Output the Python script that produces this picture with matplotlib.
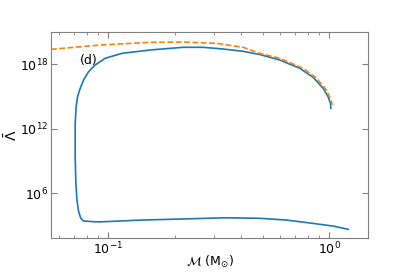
import numpy as np
import matplotlib.pyplot as plt
from matplotlib.ticker import LogLocator, NullFormatter

# courbe bleue (boucle complete): masse de chirp, log10(Lambda)
mass_blue = [1.219, 1.043, 0.846, 0.641, 0.486, 0.3433, 0.1837, 0.1421, 0.0917,
             0.0873, 0.0774, 0.0752, 0.0735, 0.0722, 0.0714, 0.0709, 0.0709,
             0.0716, 0.0727, 0.0747, 0.0774, 0.0815, 0.0873, 0.0969, 0.1153,
             0.1421, 0.1544, 0.2185, 0.2691, 0.3314, 0.4082, 0.4858, 0.598,
             0.737, 0.846, 0.9395, 0.9896, 1.0146, 1.018]
loglam_blue = [2.67, 2.97, 3.22, 3.53, 3.69, 3.74, 3.59, 3.53, 3.36,
               3.37, 3.44, 3.69, 4.30, 5.38, 6.93, 9.40, 12.50,
               14.04, 14.97, 15.75, 16.52, 17.29, 17.91, 18.53, 18.99,
               19.21, 19.30, 19.55, 19.55, 19.39, 19.18, 18.88, 18.37,
               17.60, 16.77, 15.75, 14.97, 14.35, 13.89]

# courbe orange en pointilles
mass_orange = [0.0551, 0.0917, 0.1544, 0.2185, 0.3094, 0.4082, 0.4858, 0.598,
               0.763, 0.877, 0.973, 1.0254, 1.032]
loglam_orange = [19.36, 19.76, 20.01, 20.04, 19.92, 19.55, 18.99, 18.53,
                 17.60, 16.67, 15.59, 14.50, 14.20]

label_panel = "(d)"

fig = plt.figure(figsize=(4.09, 2.73), dpi=100)
ax = fig.add_axes([0.1247, 0.128, 0.7751, 0.7548])

ax.plot(mass_blue, 10.0 ** np.array(loglam_blue), color='#1f77b4', lw=1.2)
ax.plot(mass_orange, 10.0 ** np.array(loglam_orange), color='#ff7f0e', lw=1.2,
        ls='--', dashes=(3.5, 1.5))

ax.set_xscale('log')
ax.set_yscale('log')
ax.set_xlim(0.0551, 1.50)
ax.set_ylim(10 ** 1.86, 10 ** 20.97)
ax.set_yticks([1e6, 1e12, 1e18])
ax.minorticks_off()
ax.xaxis.set_minor_locator(LogLocator(base=10, subs=np.arange(2, 10), numticks=20))
ax.xaxis.set_minor_formatter(NullFormatter())

ax.text(0.0818, 10 ** 18.37, label_panel, fontsize=9, ha='center', va='center')

ax.set_xlabel(r'$\mathcal{M}$ (M$_{\odot}$)', fontsize=9)
ax.set_ylabel(r'$\bar{\Lambda}$', fontsize=10)
ax.xaxis.set_label_coords(0.5, -0.075)
ax.yaxis.set_label_coords(-0.098, 0.5)

for s in ax.spines.values():
    s.set_color('#808080')
ax.tick_params(which='both', direction='in', top=True, right=True,
               color='#808080', labelsize=9)
ax.tick_params(which='major', length=4, pad=2)
ax.tick_params(which='minor', length=2)

plt.savefig('out.png', dpi=100)
